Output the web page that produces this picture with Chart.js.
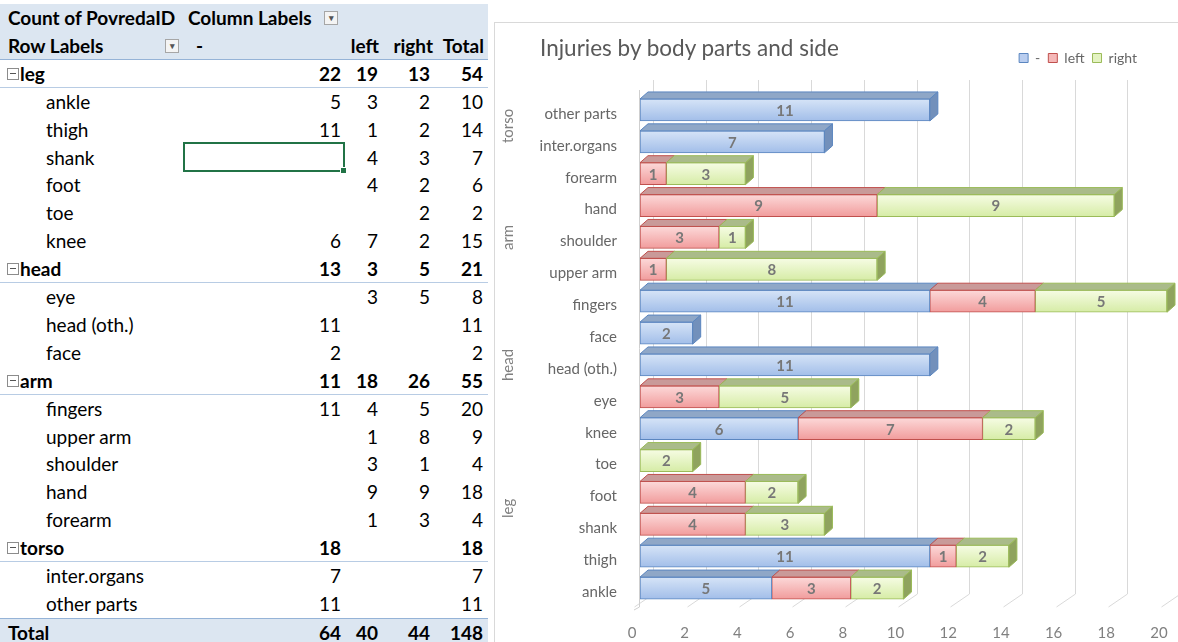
<!DOCTYPE html>
<html>
<head>
<meta charset="utf-8">
<title>Injuries by body parts and side</title>
<script src="https://cdn.jsdelivr.net/npm/chart.js@4.4.1/dist/chart.umd.min.js"></script>
<style>
    body { margin: 0; width: 1178px; height: 642px; overflow: hidden; background: #fff; font-family: Lato, "Open Sans", sans-serif; position: relative; }
    #pivot { position: absolute; left: 0; top: 0; width: 490px; height: 642px; font-size: 19px; color: #000; }
    .row { position: absolute; left: 0; width: 488px; height: 27.9px; box-sizing: border-box; }
    .row span { position: absolute; top: 0; line-height: 27.9px; white-space: nowrap; }
    .head { background: #dce6f1; font-weight: bold; }
    .head2 { border-bottom: 1px solid #95b3d7; }
    .grp { font-weight: bold; border-bottom: 1px solid #b8cce4; }
    .total { background: #dce6f1; font-weight: bold; border-top: 1px solid #95b3d7; }
    .num { text-align: right; }
    .btn { position: absolute; width: 12px; height: 12px; border: 1px solid #a6a6a6; background: #f4f4f4; top: 7px; font-size: 9px; line-height: 12px; text-align: center; color: #555; }
    .minus { position: absolute; left: 7px; top: 8px; width: 10px; height: 10px; border: 1px solid #8c8c8c; background: #fff; }
    .minus::after { content: ""; position: absolute; left: 2px; top: 4px; width: 6px; height: 1px; background: #555; }
    #sel { position: absolute; left: 183px; top: 142px; width: 162px; height: 30px; box-sizing: border-box; border: 2px solid #217346; }
    #sel::after { content: ""; position: absolute; right: -4px; bottom: -4px; width: 5px; height: 5px; background: #217346; border: 1px solid #fff; }
    #chartBox { position: absolute; left: 494px; top: 22px; width: 684px; height: 620px; border-left: 1px solid #d9d9d9; border-top: 1px solid #d9d9d9; box-sizing: border-box; }
    #chartBox canvas { position: absolute; left: 0; top: 0; }
    #title { position: absolute; left: 540px; top: 33px; line-height: 30px; font-size: 22.5px; color: #595959; white-space: nowrap; }
</style>
</head>
<body>
<div id="pivot"></div>
<div id="chartBox"><canvas id="injuries" width="683" height="619"></canvas></div>
<div id="title">Injuries by body parts and side</div>
<script>
// body parts in table order (bottom to top on the chart)
const parts = ['ankle', 'thigh', 'shank', 'foot', 'toe', 'knee',
    'eye', 'head (oth.)', 'face',
    'fingers', 'upper arm', 'shoulder', 'hand', 'forearm',
    'inter.organs', 'other parts'];
const groupNames = ['leg', 'head', 'arm', 'torso'];
const groupSizes = [6, 3, 5, 2];
const sideNames = ['-', 'left', 'right'];
const dashCounts = [5, 11, null, null, null, 6, null, 11, 2, 11, null, null, null, null, 7, 11];
const leftCounts = [3, 1, 4, 4, null, 7, 3, null, null, 4, 1, 3, 9, 1, null, null];
const rightCounts = [2, 2, 3, 2, 2, 2, 5, null, null, 5, 8, 1, 9, 3, null, null];
const xMin = 0, xMax = 20, xStep = 2;

const series = [dashCounts, leftCounts, rightCounts];

// ---- pivot table ----
const pivot = document.getElementById('pivot');
const rowH = 27.9;
let rowNo = 0;
function addRow(cls, cells) {
    const row = document.createElement('div');
    row.className = 'row ' + cls;
    row.style.top = (4 + rowNo * rowH) + 'px';
    row.innerHTML = cells;
    pivot.appendChild(row);
    rowNo++;
}
function fmt(v) { return v ? v : ''; }
function sum(arr, from, to) {
    let s = 0;
    for (let i = from; i < to; i++) s += arr[i] || 0;
    return s;
}
function numCells(vals) {
    return '<span class="num" style="left:183px;width:158px">' + fmt(vals[0]) + '</span>' +
        '<span class="num" style="left:345px;width:33px">' + fmt(vals[1]) + '</span>' +
        '<span class="num" style="left:383px;width:47px">' + fmt(vals[2]) + '</span>' +
        '<span class="num" style="left:435px;width:48px">' + fmt(vals[3]) + '</span>';
}

addRow('head', '<span style="left:8px">Count of PovredaID</span><span style="left:188px">Column Labels</span>' +
    '<div class="btn" style="left:324px">&#9662;</div>');
addRow('head head2', '<span style="left:8px">Row Labels</span><div class="btn" style="left:165px">&#9662;</div>' +
    '<span style="left:196px">' + sideNames[0] + '</span>' +
    '<span class="num" style="left:340px;width:39px">' + sideNames[1] + '</span>' +
    '<span class="num" style="left:380px;width:53px">' + sideNames[2] + '</span>' +
    '<span class="num" style="left:430px;width:54px">Total</span>');

let start = 0;
groupNames.forEach((g, gi) => {
    const end = start + groupSizes[gi];
    const vals = series.map(s => sum(s, start, end));
    vals.push(vals[0] + vals[1] + vals[2]);
    addRow('grp', '<div class="minus"></div><span style="left:20px">' + g + '</span>' + numCells(vals));
    for (let i = start; i < end; i++) {
        const v = series.map(s => s[i]);
        v.push((v[0] || 0) + (v[1] || 0) + (v[2] || 0));
        addRow('', '<span style="left:46px">' + parts[i] + '</span>' + numCells(v));
    }
    start = end;
});
const tot = series.map(s => sum(s, 0, parts.length));
tot.push(tot[0] + tot[1] + tot[2]);
addRow('total', '<span style="left:8px">Total</span>' + numCells(tot));

const sel = document.createElement('div');
sel.id = 'sel';
pivot.appendChild(sel);

// ---- chart ----
const looks = [
    { top: '#d6e4f7', bottom: '#a2bee9', border: '#5b86c0', lid: '#8fa7c7', side: '#7290bb', legend: '#b9cdef' },
    { top: '#fcd9d9', bottom: '#f19c9c', border: '#c0504d', lid: '#c99a99', side: '#b27473', legend: '#f5b8b8' },
    { top: '#f6fce4', bottom: '#d6eca6', border: '#9bbb59', lid: '#aabb8a', side: '#8fa35e', legend: '#e4f3c2' }
];
const depth = { dx: 8, dy: 7 };
const barH = 22;

function barFill(i) {
    return function (ctx) {
        const c = looks[i];
        const y = ctx.chart.scales && ctx.chart.scales.y;
        if (ctx.type !== 'data' || !y) return c.legend;
        const yc = y.getPixelForValue(ctx.dataIndex);
        if (!isFinite(yc)) return c.legend;
        const g = ctx.chart.ctx.createLinearGradient(0, yc - barH / 2, 0, yc + barH / 2);
        g.addColorStop(0, c.top);
        g.addColorStop(1, c.bottom);
        return g;
    };
}

const wall = {
    id: 'wall',
    beforeDatasetsDraw(chart) {
        const ctx = chart.ctx, x = chart.scales.x, a = chart.chartArea;
        ctx.save();
        ctx.strokeStyle = '#d9d9d9';
        ctx.lineWidth = 1;
        x.ticks.forEach(t => {
            const p = Math.round(x.getPixelForValue(t.value)) + 0.5;
            ctx.beginPath();
            ctx.moveTo(p + 13, a.top - 14);
            ctx.lineTo(p + 13, a.bottom - 10);
            ctx.lineTo(p - 6, a.bottom + 3);
            ctx.stroke();
        });
        ctx.strokeStyle = '#cfcfcf';
        ctx.beginPath();
        ctx.moveTo(a.left - 0.5, a.top - 4);
        ctx.lineTo(a.left - 0.5, a.bottom + 3);
        ctx.lineTo(a.left - 6, a.bottom + 6);
        ctx.stroke();
        ctx.restore();
    }
};

const blocks = {
    id: 'blocks',
    afterDatasetsDraw(chart) {
        const ctx = chart.ctx;
        const sets = chart.data.datasets;
        ctx.save();
        ctx.lineWidth = 1;
        parts.forEach((p, i) => {
            let last = -1;
            sets.forEach((ds, d) => { if (ds.data[i] != null) last = d; });
            sets.forEach((ds, d) => {
                if (ds.data[i] == null) return;
                const el = chart.getDatasetMeta(d).data[i];
                const c = looks[d];
                const x0 = Math.min(el.base, el.x), x1 = Math.max(el.base, el.x);
                const top = el.y - el.height / 2, bot = el.y + el.height / 2;
                ctx.strokeStyle = c.border;
                ctx.fillStyle = c.lid;
                ctx.beginPath();
                ctx.moveTo(x0, top);
                ctx.lineTo(x0 + depth.dx, top - depth.dy);
                ctx.lineTo(x1 + depth.dx, top - depth.dy);
                ctx.lineTo(x1, top);
                ctx.closePath();
                ctx.fill();
                ctx.stroke();
                if (d === last) {
                    ctx.fillStyle = c.side;
                    ctx.beginPath();
                    ctx.moveTo(x1, top);
                    ctx.lineTo(x1 + depth.dx, top - depth.dy);
                    ctx.lineTo(x1 + depth.dx, bot - depth.dy);
                    ctx.lineTo(x1, bot);
                    ctx.closePath();
                    ctx.fill();
                    ctx.stroke();
                }
            });
        });
        // value labels
        ctx.fillStyle = '#777777';
        ctx.font = 'bold 15px Lato, sans-serif';
        ctx.textAlign = 'center';
        ctx.textBaseline = 'middle';
        sets.forEach((ds, d) => {
            chart.getDatasetMeta(d).data.forEach((el, i) => {
                if (ds.data[i] == null) return;
                ctx.fillText(ds.data[i], (el.x + el.base) / 2, el.y + 1);
            });
        });
        // group names on the category axis
        const y = chart.scales.y;
        ctx.fillStyle = '#7f7f7f';
        ctx.font = '15px Lato, sans-serif';
        let s = 0;
        groupNames.forEach((g, gi) => {
            const e = s + groupSizes[gi] - 1;
            const mid = (y.getPixelForValue(s) + y.getPixelForValue(e)) / 2;
            ctx.save();
            ctx.translate(13, mid);
            ctx.rotate(-Math.PI / 2);
            ctx.fillText(g, 0, 0);
            ctx.restore();
            s = e + 1;
        });
        ctx.restore();
    }
};

const legendSpot = {
    id: 'legendSpot',
    beforeInit(chart) {
        const lg = chart.legend;
        const fit = lg.fit;
        lg.fit = function () { fit.call(this); this.height += 19; };
    },
    afterLayout(chart) {
        chart.legend.left -= 22;
        chart.legend.right -= 22;
    }
};

new Chart(document.getElementById('injuries'), {
    type: 'bar',
    data: {
        labels: parts,
        datasets: sideNames.map((name, i) => ({
            label: name,
            data: series[i],
            backgroundColor: barFill(i),
            borderColor: looks[i].border,
            borderWidth: 1,
            borderSkipped: false,
            barThickness: barH
        }))
    },
    options: {
        indexAxis: 'y',
        responsive: false,
        animation: false,
        layout: { padding: { left: 0, right: 11, top: 20, bottom: 0 } },
        scales: {
            x: {
                stacked: true,
                min: xMin,
                max: xMax,
                ticks: { stepSize: xStep, color: '#808080', font: { family: 'Lato', size: 15 }, padding: 20, labelOffset: -8 },
                grid: { display: false, drawTicks: false },
                border: { display: false },
                afterFit(scale) {
                    scale.height = 38;
                    scale.paddingLeft = 0;
                    scale.paddingRight = 0;
                }
            },
            y: {
                stacked: true,
                reverse: true,
                ticks: { color: '#666666', font: { family: 'Lato', size: 15 }, padding: 23, labelOffset: 4, autoSkip: false },
                grid: { display: false, drawTicks: false },
                border: { display: false },
                afterFit(scale) { scale.width = 145; }
            }
        },
        plugins: {
            legend: {
                position: 'top',
                align: 'end',
                labels: {
                    boxWidth: 9,
                    boxHeight: 9,
                    padding: 8,
                    color: '#666666',
                    font: { family: 'Lato', size: 14 },
                    generateLabels(chart) {
                        return Chart.defaults.plugins.legend.labels.generateLabels(chart).map((it, i) => {
                            it.fillStyle = looks[i].legend;
                            it.strokeStyle = looks[i].border;
                            it.lineWidth = 1;
                            return it;
                        });
                    }
                }
            },
            tooltip: { enabled: false }
        }
    },
    plugins: [legendSpot, wall, blocks]
});
</script>
</body>
</html>
